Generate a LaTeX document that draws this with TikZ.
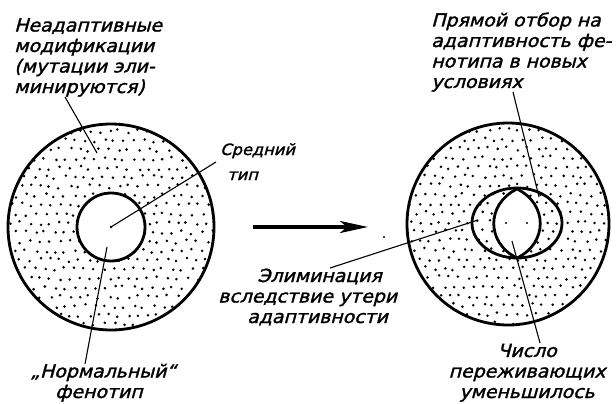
\documentclass[tikz,border=0pt]{standalone}
\usepackage{fontspec}
\setmainfont{DejaVu Sans}
\newfontfamily\handfont{DejaVu Sans}[FakeSlant=0.27, FakeBold=1.6, FakeStretch=1.05]
\usetikzlibrary{arrows.meta}
\tikzset{
  lbl/.style={inner sep=0pt, font=\handfont\fontsize{18}{20.5}\selectfont, align=left, anchor=base west},
  leader/.style={line width=1.1pt},
  ring/.style={line width=2.8pt},
  stip/.style={fill=black},
}
\begin{document}
\begin{tikzpicture}[x=1pt,y=-1pt]
\useasboundingbox (0,0) rectangle (616,404);
% centres
\coordinate (L) at (111,227);
\coordinate (R) at (508,224);
\coordinate (RI) at (517,223);
% stipple left
\begin{scope}
  \clip (L) circle[radius=103pt];
  \pgfmathsetseed{7}
  \foreach \i in {0,...,22}{
    \foreach \j in {0,...,23}{
      \pgfmathsetmacro\xx{6+\i*9.8+mod(\j,2)*4.9+rand*2}
      \pgfmathsetmacro\yy{122+\j*9.2+rand*2}
      \fill[stip] (\xx,\yy) circle[radius=1.4pt];
    }
  }
\end{scope}
% stipple right
\begin{scope}
  \clip (R) circle[radius=101pt];
  \pgfmathsetseed{11}
  \foreach \i in {0,...,22}{
    \foreach \j in {0,...,23}{
      \pgfmathsetmacro\xx{405+\i*9.8+mod(\j,2)*4.9+rand*2}
      \pgfmathsetmacro\yy{121+\j*9.2+rand*2}
      \fill[stip] (\xx,\yy) circle[radius=1.4pt];
    }
  }
\end{scope}
% left rings
\fill[white] (L) circle[radius=34pt];
\draw[ring] (L) circle[radius=103pt];
\draw[ring] (L) circle[radius=34pt];
% right rings
\coordinate (LT) at (517,189);
\coordinate (LB) at (517,258);
\fill[white] (LT) .. controls (486,204) and (486,243) .. (LB) .. controls (548,243) and (548,204) .. (LT) -- cycle;
\draw[ring] (R) circle[radius=101pt];
\draw[ring] (RI) ellipse[x radius=45pt, y radius=35pt];
\draw[ring] (LT) .. controls (486,204) and (486,243) .. (LB) .. controls (548,243) and (548,204) .. (LT) -- cycle;
% centre dots
\fill (L) circle[radius=1.3pt];
\coordinate (d1) at (506,223);
\coordinate (d2) at (527,223);
\fill (d1) circle[radius=1.2pt];
\fill (d2) circle[radius=1.2pt];
\coordinate (stray) at (384,237);
\fill (stray) circle[radius=1.1pt];
% arrow
\coordinate (a1) at (253,227);
\coordinate (a2) at (368,227);
\draw[line width=3.6pt, -{Stealth[length=28pt,width=12pt,inset=7pt]}] (a1) -- (a2);
% labels (base = last line)
\node[lbl] (neadapt) at (14,93) {Неадаптивные\\модификации\\(мутации эли-\\минируются)};
\node[lbl, font=\handfont\fontsize{15.5}{25}\selectfont] (sredn) at (220,180) {Средний\\\hspace*{7pt}тип};
\node[lbl] (norm) at (30,398) {„Нормальный“\\\hspace*{25pt}фенотип};
\node[lbl] (pryam) at (431,88) {Прямой отбор на\\адаптивность фе-\\нотипа в новых\\условиях};
\node[lbl] (elim) at (218,323) {\hspace*{39pt}Элиминация\\вследствие утери\\\hspace*{29pt}адаптивности};
\node[lbl, align=center, anchor=base] (chislo) at (527,398) {Число\\переживающих\\уменьшилось};
% leader ends
\coordinate (e1a) at (65,97);   \coordinate (e1b) at (97,153);
\coordinate (e2b) at (216,162);
\coordinate (e3a) at (107,247); \coordinate (e3b) at (85,364);
\coordinate (e4a) at (513,92);  \coordinate (e4b) at (539,197);
\coordinate (e5a) at (330,268); \coordinate (e5b) at (478,220);
\coordinate (e6a) at (512,241); \coordinate (e6b) at (540,343);
\draw[leader] (e1a) -- (e1b);
\draw[leader] (L) -- (e2b);
\draw[leader] (e3a) -- (e3b);
\draw[leader] (e4a) -- (e4b);
\draw[leader] (e5a) -- (e5b);
\draw[leader] (e6a) -- (e6b);
\end{tikzpicture}
\end{document}
